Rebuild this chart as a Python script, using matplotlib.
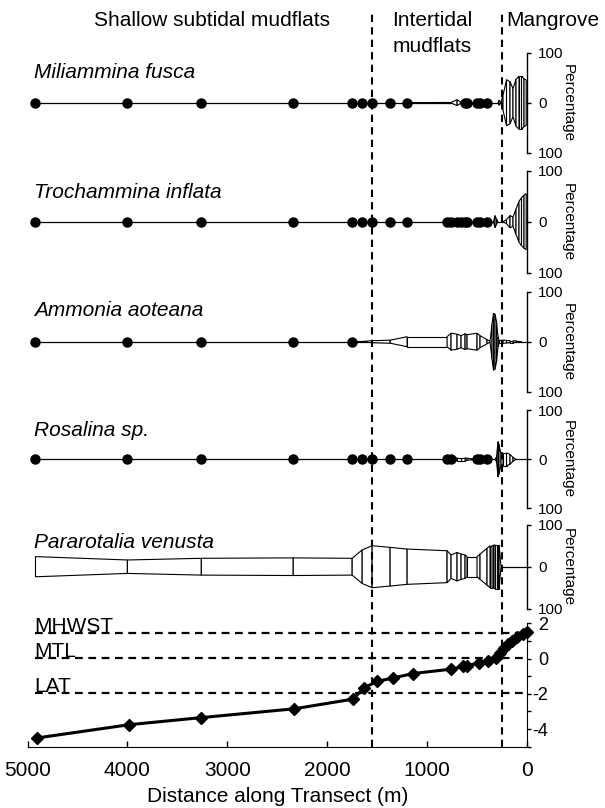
import numpy as np
import matplotlib.pyplot as plt

plt.rcParams['font.family'] = ['Liberation Sans', 'DejaVu Sans']
plt.rcParams['axes.unicode_minus'] = False

# sampling stations (distance along transect, m)
dist = [4920, 4000, 3260, 2340, 1750, 1650, 1550, 1370, 1200,
        800, 760, 700, 660, 620, 600, 500, 470, 400,
        370, 350, 335, 320, 305, 290, 280, 260,
        240, 205, 170, 140, 110, 80, 55, 30, 8]

# relative abundance (%) per station
miliammina = [0, 0, 0, 0, 0, 0, 0, 0, 0,
              0.5, 0.5, 6, 0.5, 0, 0, 0, 0, 0,
              0, 0, 0, 0, 0, 0, 5, 0,
              15, 46, 42, 28, 47, 53, 53, 48, 45]
trochammina = [0, 0, 0, 0, 0, 0, 0, 0, 0,
               0, 0, 0, 0, 0, 0, 0, 0, 0,
               0, 0, 0, 12, 5, 0, 0, 0,
               0, 4, 12, 9, 25, 40, 47, 52, 55]
ammonia = [0, 0, 0, 0, 0, 0.5, 2, 3, 10,
           10, 17, 15, 12, 16, 14, 17, 12, 4,
           1, 35, 57, 55, 40, 10, 3, 3,
           3, 2.5, 2, 2, 1.2, 0.5, 0, 0, 0]
rosalina = [0, 0, 0, 0, 0, 0, 0, 0, 0,
            0, 0, 3, 3, 3, 2, 0, 0, 0,
            0, 0, 0, 0, 5, 36, 30, 10,
            13, 13, 10, 4, 0, 0, 0, 0, 0]
pararotalia = [24, 16, 20, 21, 20, 40, 50, 46, 42,
               38, 28, 34, 30, 28, 24, 24, 30, 44,
               50, 50, 51, 52, 52, 52, 52, 0,
               0, 0, 0, 0, 0, 0, 0, 0, 0]

species = ['Miliammina fusca', 'Trochammina inflata', 'Ammonia aoteana',
           'Rosalina sp.', 'Pararotalia venusta']
abundance = [miliammina, trochammina, ammonia, rosalina, pararotalia]

# elevation profile (m relative to MTL)
elev_dist = [4900, 3980, 3260, 2330, 1740, 1630, 1500, 1340, 1140, 760, 640,
             600, 480, 390, 310, 270, 230, 190, 150, 100, 40, 0]
elev = [-4.5, -3.75, -3.35, -2.85, -2.3, -1.65, -1.3, -1.1, -0.85, -0.6, -0.45,
        -0.4, -0.25, -0.12, 0.05, 0.3, 0.6, 0.85, 1.0, 1.2, 1.38, 1.5]

tide_names = ['MHWST', 'MTL', 'LAT']
tide_levels = [1.45, 0.05, -1.95]

zone_bounds = [1550, 250]

W, H = 605, 808
fig = plt.figure(figsize=(W / 100, H / 100), dpi=100)


def px_axes(top, bottom):
    return fig.add_axes([27.5 / W, 1 - bottom / H, 499.5 / W, (bottom - top) / H])


# panel centre (px) and half height (px), label centre (px)
panels = [(102.7, 50, 73), (221.7, 51, 192), (341.7, 50, 311),
          (459.3, 49, 430), (566.7, 42, 542)]

for name, vals, (c, h, ly) in zip(species, abundance, panels):
    ax = px_axes(c - h, c + h)
    ax.set_xlim(5000, 0)
    ax.set_ylim(-100, 100)
    ax.patch.set_visible(False)
    for s in ['top', 'left', 'bottom']:
        ax.spines[s].set_visible(False)
    ax.spines['right'].set_linewidth(1)
    ax.yaxis.tick_right()
    ax.set_yticks([-100, 0, 100])
    ax.set_yticklabels(['100', '0', '100'])
    ax.tick_params(axis='y', direction='out', length=3, width=1, pad=5, labelsize=11)
    ax.set_xticks([])

    ax.plot([dist[0], 0], [0, 0], color='black', lw=0.9, zorder=1)
    for i in range(len(dist) - 1):
        a, b = vals[i], vals[i + 1]
        if a > 0 or b > 0:
            ax.fill([dist[i], dist[i + 1], dist[i + 1], dist[i]], [a, b, -b, -a],
                    facecolor='white', edgecolor='black', lw=0.8, zorder=2)
    zero = [d for d, v in zip(dist, vals) if v == 0 and d >= 390]
    ax.plot(zero, np.zeros(len(zero)), 'o', color='black', ms=6.5, zorder=3)

    ax.text(1.082, 0.5, 'Percentage', transform=ax.transAxes, rotation=-90,
            ha='center', va='center', fontsize=11)
    fig.text(34 / W, 1 - ly / H, name, style='italic', fontsize=15, va='center')

# elevation panel
ex = px_axes(623.3, 746.7)
ex.set_xlim(5000, 0)
ex.set_ylim(-5, 2)
ex.patch.set_visible(False)
ex.spines['top'].set_visible(False)
ex.spines['left'].set_visible(False)
ex.yaxis.tick_right()
ex.set_yticks(range(-5, 3))
ex.set_yticklabels(['', '-4', '', '-2', '', '0', '', '2'])
ex.tick_params(axis='y', direction='out', length=3, width=1, pad=12.5, labelsize=13)
for lbl in ex.get_yticklabels():
    lbl.set_ha('right')
ex.set_xticks(range(0, 5001, 1000))
ex.tick_params(axis='x', direction='in', length=4, width=1, pad=10, labelsize=15)
ex.set_xlabel('Distance along Transect (m)', fontsize=15, labelpad=5)

for name, lvl in zip(tide_names, tide_levels):
    ex.plot([4920, 0], [lvl, lvl], color='black', lw=1.6, ls=(0, (3.5, 2.5)))
    ex.text(4935, lvl + 0.05, name, fontsize=15, va='baseline', ha='left')

ex.plot(elev_dist, elev, color='black', lw=2.2, marker='D', ms=6,
        zorder=3, clip_on=False)

# zone boundaries
ov = px_axes(12, 746.7)
ov.set_xlim(5000, 0)
ov.set_ylim(0, 1)
ov.axis('off')
for b in zone_bounds:
    ov.axvline(b, color='black', lw=1.5, ls=(0, (3.5, 2.5)))

fig.text(212 / W, 1 - 20 / H, 'Shallow subtidal mudflats', ha='center', va='center', fontsize=15)
fig.text(432 / W, 1 - 20 / H, 'Intertidal', ha='center', va='center', fontsize=15)
fig.text(432 / W, 1 - 46 / H, 'mudflats', ha='center', va='center', fontsize=15)
fig.text(506 / W, 1 - 20 / H, 'Mangrove', ha='left', va='center', fontsize=15)

fig.savefig('out.png', dpi=100)
